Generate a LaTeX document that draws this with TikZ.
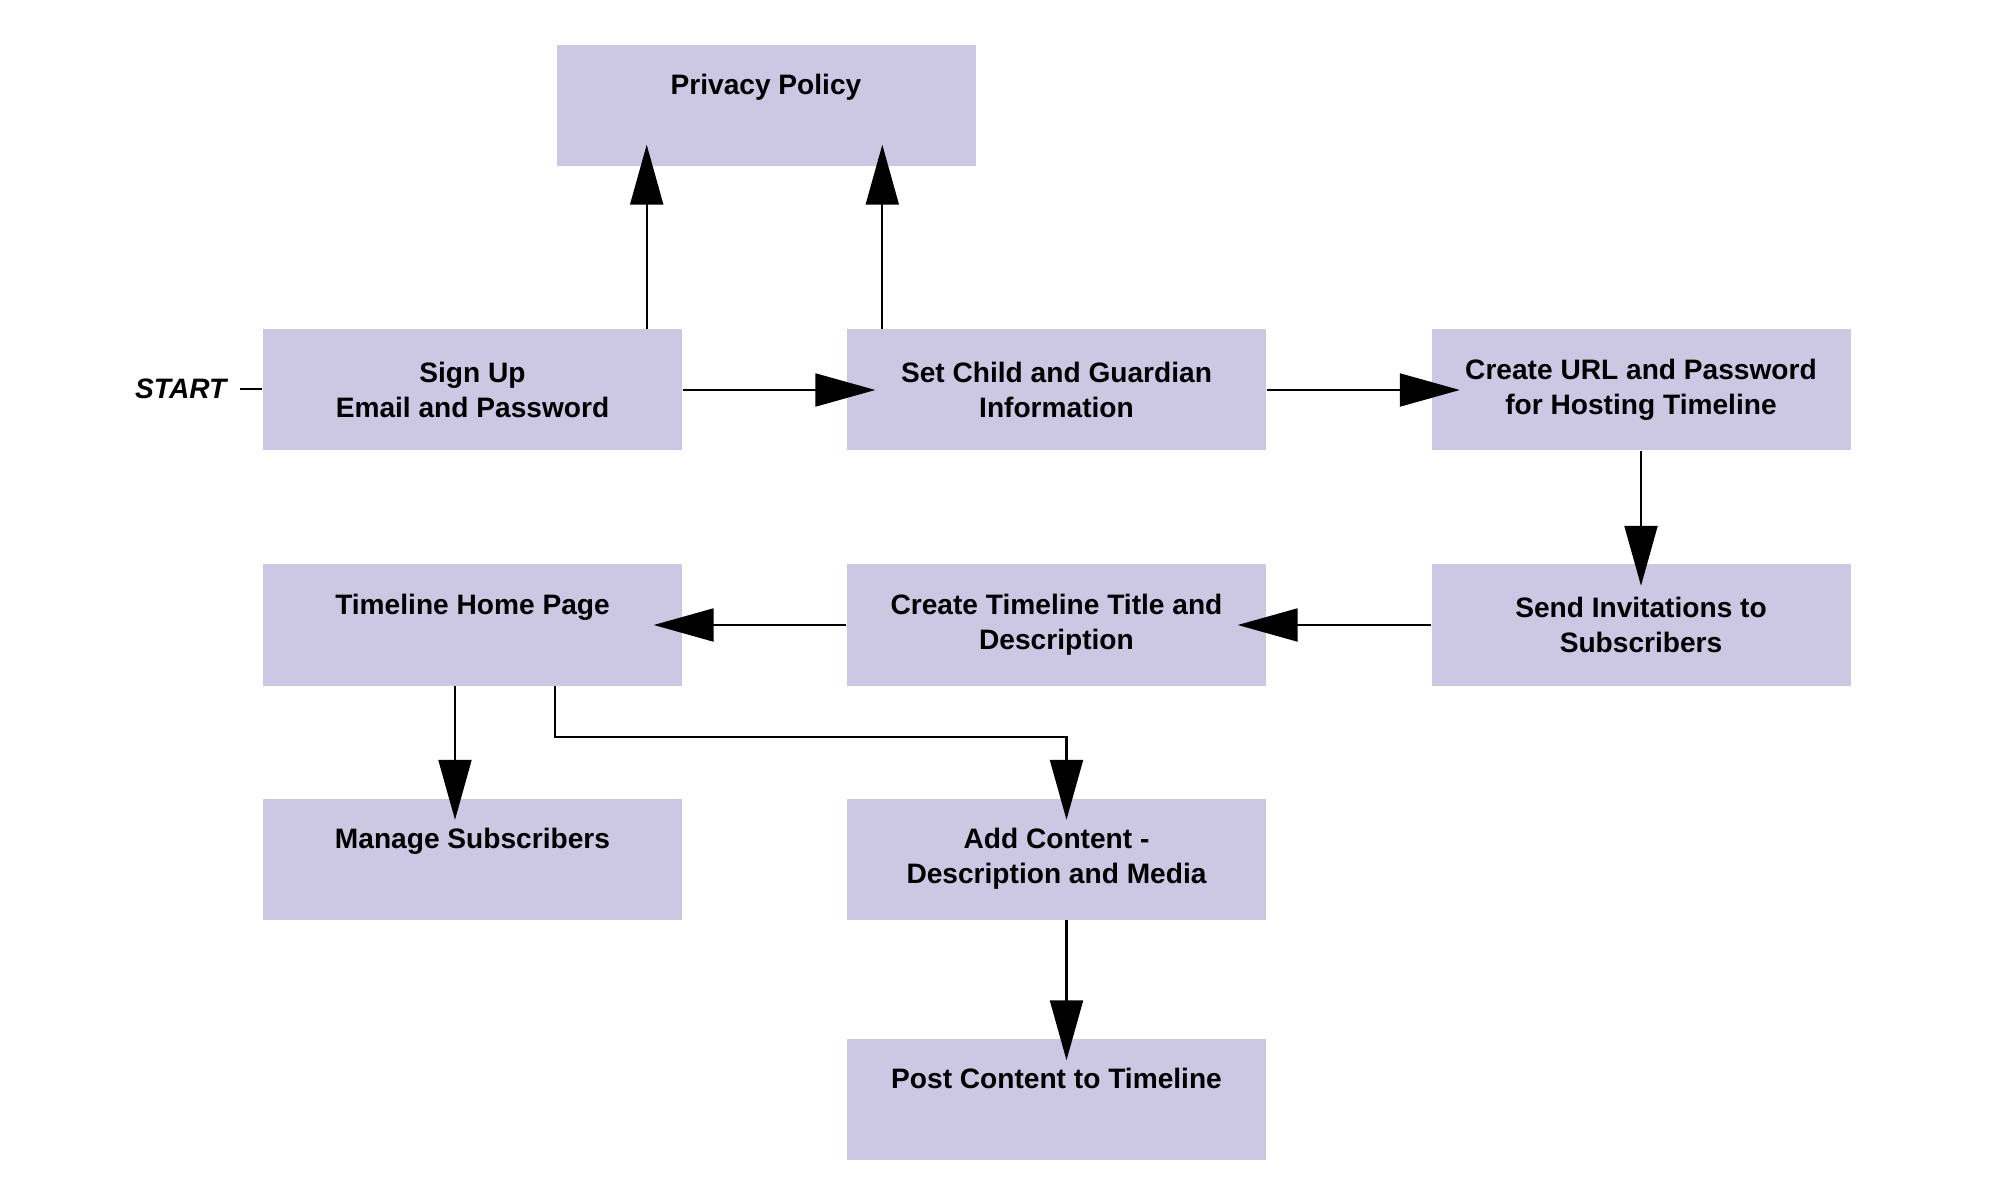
\documentclass[tikz,border=0pt]{standalone}
\usepackage{fontspec}
\setmainfont{Liberation Sans}
\usetikzlibrary{arrows.meta}
\definecolor{boxfill}{RGB}{204,199,226}

\begin{document}
\begin{tikzpicture}[
    box/.style={fill=boxfill, minimum width=4.19cm, minimum height=1.21cm,
      inner sep=0pt, align=center, font=\fontsize{8}{10}\selectfont\bfseries},
    flow/.style={line width=0.6pt, -{Triangle[length=6mm, width=3.3mm]}},
    vflow/.style={flow, shorten >=-2.2mm},
    hflow/.style={flow, shorten >=-2.9mm}]
  \useasboundingbox (0,0) rectangle (20,12);
  % boxes
  \node[box] (privacy) at (7.66,10.945) {Privacy Policy\\[2pt]\mbox{}};
  \node[box] (signup) at (4.725,8.10) {Sign Up\\Email and Password};
  \node[box] (childinfo) at (10.565,8.10) {Set Child and Guardian\\Information};
  \node[box] (urlpass) at (16.41,8.10) {Create URL and Password\\for Hosting Timeline};
  \node[box] (home) at (4.725,5.75) {Timeline Home Page\\[2pt]\mbox{}};
  \node[box] (tltitle) at (10.565,5.75) {Create Timeline Title and\\Description};
  \node[box] (invite) at (16.41,5.75) {Send Invitations to\\Subscribers};
  \node[box] (manage) at (4.725,3.41) {Manage Subscribers\\[2pt]\mbox{}};
  \node[box] (addcontent) at (10.565,3.41) {Add Content -\\Description and Media};
  \node[box] (postcontent) at (10.565,1.005) {Post Content to Timeline\\[2pt]\mbox{}};
  \node[font=\fontsize{8}{10}\selectfont\bfseries\itshape, anchor=east, inner sep=1.3mm]
    (start) at (2.40,8.11) {START};
  \coordinate (bend) at (10.665,4.63);

  % connectors
  \draw[line width=0.6pt] (start.east) -- (start.east -| signup.west);
  \draw[vflow] ([xshift=-3.6mm]signup.north east) -- ([xshift=-3.6mm]signup.north east |- privacy.south);
  \draw[vflow] ([xshift=3.6mm]childinfo.north west) -- ([xshift=3.6mm]childinfo.north west |- privacy.south);
  \draw[hflow] (signup) -- (childinfo);
  \draw[hflow] (childinfo) -- (urlpass);
  \draw[vflow] (urlpass) -- (invite);
  \draw[hflow] (invite) -- (tltitle);
  \draw[hflow] (tltitle) -- (home);
  \draw[vflow] ([xshift=-1.75mm]home.south) -- ([xshift=-1.75mm]home.south |- manage.north);
  \draw[vflow] ([xshift=-1.28cm]home.south east) |- (bend) -- (bend |- addcontent.north);
  \draw[vflow] (bend |- addcontent.south) -- (bend |- postcontent.north);
\end{tikzpicture}
\end{document}
